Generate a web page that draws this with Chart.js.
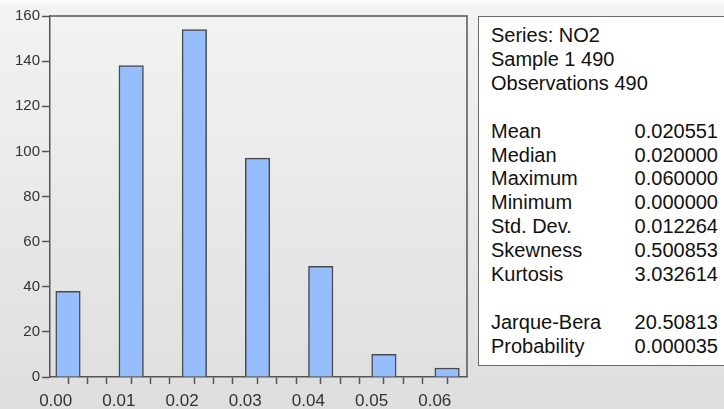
<!DOCTYPE html>
<html>
<head>
<meta charset="utf-8">
<script src="https://cdn.jsdelivr.net/npm/chart.js@4"></script>
<style>
  html, body { margin: 0; padding: 0; }
  body {
    width: 724px; height: 409px; overflow: hidden; position: relative;
    background: linear-gradient(to bottom, #fbfbfb 0px, #fbfbfb 4px, #f3f3f3 5px, #dedede 409px);
    font-family: "Liberation Sans", Arial, sans-serif;
  }
  #chart { position: absolute; left: 0; top: 0; }
  #stats {
    position: absolute; left: 478px; top: 16px; width: 260px; height: 350px;
    background: #fff; border: 1px solid #6a6a6a; box-sizing: border-box;
  }
  #stats table {
    position: absolute; left: 12px; top: 7px; width: 227px;
    border-collapse: collapse; font-size: 20px; color: #111;
  }
  #stats td { padding: 0; height: 23.9px; line-height: 23.9px; white-space: nowrap; }
  #stats td.v { text-align: right; }
</style>
</head>
<body>
<canvas id="chart" width="470" height="409"></canvas>
<div id="stats"><table id="statsTable"></table></div>
<script>
// histogram bins (left edge of each bin) and counts
const binStarts = [0.00, 0.01, 0.02, 0.03, 0.04, 0.05, 0.06];
const counts = [38, 138, 154, 97, 49, 10, 4];
const binWidth = 0.0039;
const yTicks = [0, 20, 40, 60, 80, 100, 120, 140, 160];

// descriptive statistics panel
const headerLines = ['Series: NO2', 'Sample 1 490', 'Observations 490'];
const statNames = ['Mean', 'Median', 'Maximum', 'Minimum', 'Std. Dev.', 'Skewness', 'Kurtosis'];
const statValues = ['0.020551', '0.020000', '0.060000', '0.000000', '0.012264', '0.500853', '3.032614'];
const testNames = ['Jarque-Bera', 'Probability'];
const testValues = ['20.50813', '0.000035'];

// build the stats table
const table = document.getElementById('statsTable');
function addRow(a, b) {
    const tr = document.createElement('tr');
    if (b === undefined) {
        tr.innerHTML = '<td colspan="2">' + a + '</td>';
    } else {
        tr.innerHTML = '<td>' + a + '</td><td class="v">' + b + '</td>';
    }
    table.appendChild(tr);
}
headerLines.forEach(l => addRow(l));
addRow('&nbsp;');
statNames.forEach((n, i) => addRow(n, statValues[i]));
addRow('&nbsp;');
testNames.forEach((n, i) => addRow(n, testValues[i]));

// frame around plot area (top and right sides)
const framePlugin = {
    id: 'frame',
    afterDatasetsDraw(chart) {
        const a = chart.chartArea;
        const ctx = chart.ctx;
        ctx.save();
        ctx.strokeStyle = '#555';
        ctx.lineWidth = 1.5;
        ctx.beginPath();
        ctx.moveTo(a.left, a.top);
        ctx.lineTo(a.right, a.top);
        ctx.lineTo(a.right, a.bottom);
        ctx.stroke();
        ctx.restore();
    }
};

const isMajor = v => Math.abs(v * 100 - Math.round(v * 100)) < 1e-6;

const ctx = document.getElementById('chart').getContext('2d');
new Chart(ctx, {
    type: 'bar',
    data: {
        datasets: [{
            data: binStarts.map((s, i) => ({ x: s + binWidth / 2, y: counts[i] })),
            backgroundColor: '#96bdfc',
            borderColor: '#4a4a4a',
            borderWidth: 1.5,
            barThickness: 24.5
        }]
    },
    options: {
        responsive: false,
        animation: false,
        layout: { padding: { top: 16, right: 3, left: 0, bottom: 0 } },
        plugins: {
            legend: { display: false },
            tooltip: { enabled: false }
        },
        scales: {
            x: {
                type: 'linear',
                min: -0.0009,
                max: 0.0651,
                offset: false,
                afterBuildTicks: scale => {
                    const t = [];
                    binStarts.forEach((s, i) => {
                        t.push({ value: s });
                        t.push({ value: s + binWidth });
                        if (i < binStarts.length - 1) t.push({ value: s + 0.0061 });
                    });
                    scale.ticks = t;
                },
                afterFit: scale => { scale.height = 32; },
                grid: { drawOnChartArea: false, drawTicks: true, tickLength: 7, color: '#555', tickWidth: 1.5 },
                border: { display: true, color: '#555', width: 1.5 },
                ticks: {
                    autoSkip: false,
                    maxRotation: 0,
                    padding: 7,
                    color: '#333',
                    font: { family: '"Liberation Sans", Arial, sans-serif', size: 17 },
                    callback: v => isMajor(v) ? v.toFixed(2) : ''
                }
            },
            y: {
                min: 0,
                max: 160,
                afterBuildTicks: scale => { scale.ticks = yTicks.map(v => ({ value: v })); },
                afterFit: scale => { scale.width = 50; },
                grid: { drawOnChartArea: false, drawTicks: true, tickLength: 8, color: '#555', tickWidth: 1.5 },
                border: { display: true, color: '#555', width: 1.5 },
                ticks: {
                    padding: 2,
                    color: '#333',
                    font: { family: '"Liberation Sans", Arial, sans-serif', size: 15 }
                }
            }
        }
    },
    plugins: [framePlugin]
});
</script>
</body>
</html>
